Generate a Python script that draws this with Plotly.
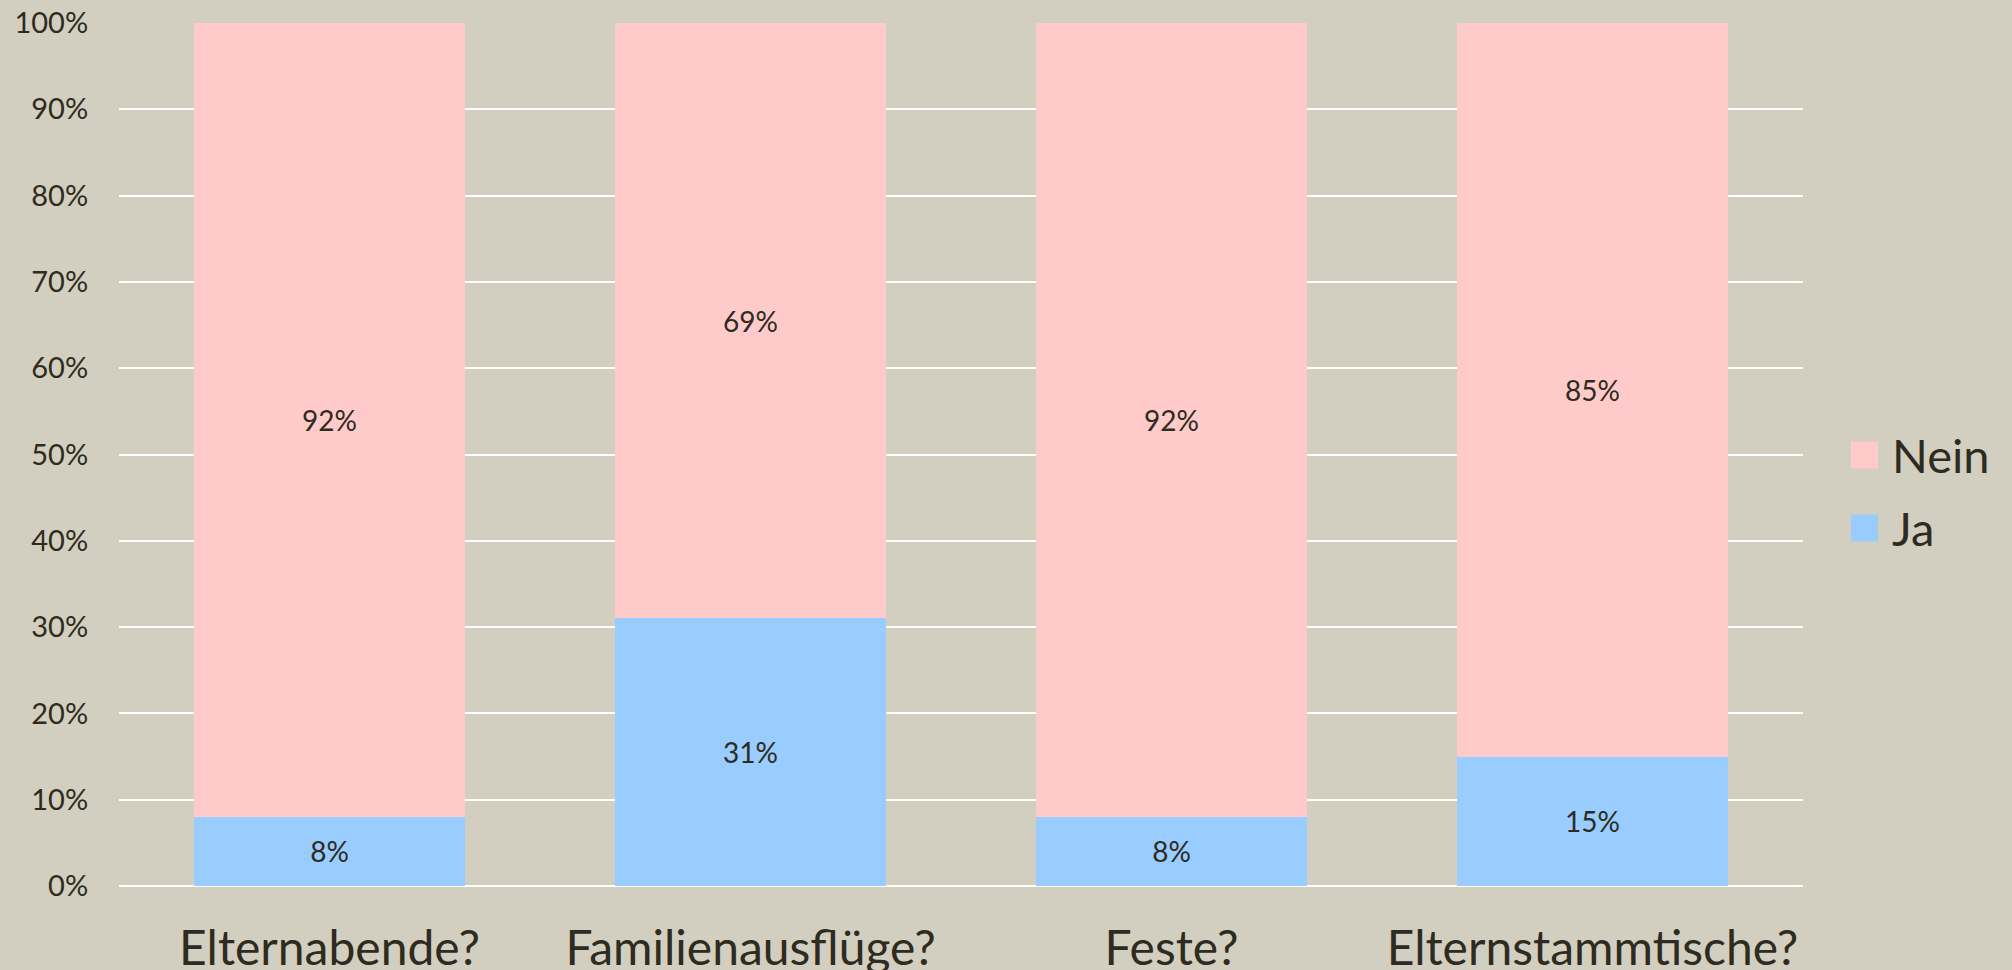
import plotly.graph_objects as go

categories = ["Elternabende?", "Familienausflüge?", "Feste?", "Elternstammtische?"]
ja_values = [8, 31, 8, 15]
nein_values = [92, 69, 92, 85]
series_names = ["Ja", "Nein"]
series_colors = ["#99ccff", "#ffcaca"]
y_ticks = [0, 10, 20, 30, 40, 50, 60, 70, 80, 90, 100]

BG = "#d3cfc0"
TXT = "#2e2b20"
FONT = "Lato"

fig = go.Figure()
for name, vals, col in zip(series_names, [ja_values, nein_values], series_colors):
    fig.add_trace(go.Bar(
        x=categories, y=vals, name=name, marker=dict(color=col, line=dict(width=0)),
        text=[f"{v}%" for v in vals], textposition="inside", insidetextanchor="middle",
        textangle=0, constraintext="none",
        textfont=dict(family=FONT, size=28, color=TXT), showlegend=False,
    ))

fig.update_layout(
    width=2012, height=970, barmode="stack", bargap=0.356,
    paper_bgcolor=BG, plot_bgcolor=BG,
    margin=dict(l=119, r=209, t=23, b=84),
    font=dict(family=FONT, color=TXT),
)
fig.update_xaxes(
    showgrid=False, showline=False, zeroline=False, automargin=False,
    ticks="outside", ticklen=20, tickcolor=BG,
    tickfont=dict(family=FONT, size=48, color=TXT),
)
fig.update_yaxes(
    range=[0, 100], tickvals=y_ticks, ticktext=[f"{t}%" for t in y_ticks],
    showgrid=True, gridcolor="#ffffff", gridwidth=2, zeroline=True, zerolinecolor="#ffffff",
    zerolinewidth=2, showline=False, automargin=False,
    ticks="outside", ticklen=24, tickcolor=BG,
    tickfont=dict(family=FONT, size=29, color=TXT),
)

# legend (drawn manually to get large square swatches), Nein on top
legend_items = list(zip(series_names, series_colors))[::-1]
plot_l, plot_r, plot_t, plot_b = 119, 1803, 23, 886
pw, ph = plot_r - plot_l, plot_b - plot_t
centers_px = [455, 528]
for (name, col), cy in zip(legend_items, centers_px):
    x0 = (1851 - plot_l) / pw
    x1 = (1878 - plot_l) / pw
    y0 = (plot_b - (cy + 13.5)) / ph
    y1 = (plot_b - (cy - 13.5)) / ph
    fig.add_shape(type="rect", xref="paper", yref="paper", x0=x0, x1=x1, y0=y0, y1=y1,
                  fillcolor=col, line=dict(width=0))
    fig.add_annotation(xref="paper", yref="paper", x=(1890 - plot_l) / pw,
                       y=(plot_b - cy) / ph, text=name, showarrow=False,
                       xanchor="left", yanchor="middle",
                       font=dict(family=FONT, size=47, color=TXT))

fig.write_html("out.html", config={"displayModeBar": False},
               post_script="document.body.style.margin='0px';document.body.style.background='%s';" % BG)
